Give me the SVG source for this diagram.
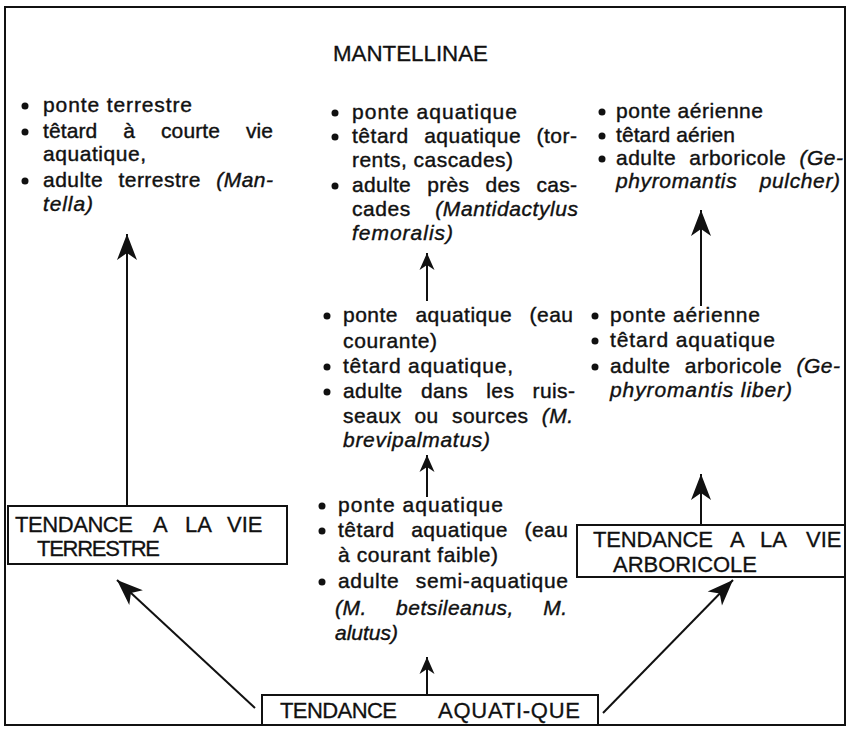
<svg xmlns="http://www.w3.org/2000/svg" width="848" height="735" viewBox="0 0 848 735">
<defs>
<style>
.t{font-family:"Liberation Sans",Arial,sans-serif;font-size:21px;fill:#111;stroke:#111;stroke-width:0.4}
.i{font-style:italic}
.h{font-family:"Liberation Sans",Arial,sans-serif;font-size:22px;fill:#111;stroke:#111;stroke-width:0.3}
.box{fill:#fff;stroke:#111;stroke-width:2}
.ln{stroke:#111;stroke-width:2;fill:none}
.b{fill:#111}
</style>
<marker id="big" viewBox="-27 -12 29 24" refX="0" refY="0" markerWidth="29" markerHeight="24" markerUnits="userSpaceOnUse" orient="auto">
<path d="M0,0 L-26,-10 L-19,0 L-26,10 Z" fill="#111"/>
</marker>
<marker id="small" viewBox="-19 -9 21 18" refX="0" refY="0" markerWidth="21" markerHeight="18" markerUnits="userSpaceOnUse" orient="auto">
<path d="M0,0 L-17,-7.5 L-12,0 L-17,7.5 Z" fill="#111"/>
</marker>
</defs>
<rect x="0" y="0" width="848" height="735" fill="#fff"/>
<rect x="5" y="7" width="840" height="718" fill="none" stroke="#111" stroke-width="2"/>
<text class="h" x="333" y="61" textLength="155" lengthAdjust="spacingAndGlyphs">MANTELLINAE</text>

<g id="connectors">
<line class="ln" x1="127" y1="506" x2="127" y2="234" marker-end="url(#big)"/>
<line class="ln" x1="427" y1="301" x2="427" y2="253" marker-end="url(#small)"/>
<line class="ln" x1="427" y1="497" x2="427" y2="455" marker-end="url(#small)"/>
<line class="ln" x1="427" y1="695" x2="427" y2="657" marker-end="url(#small)"/>
<line class="ln" x1="701" y1="306" x2="701" y2="210" marker-end="url(#big)"/>
<line class="ln" x1="701" y1="525" x2="701" y2="474" marker-end="url(#big)"/>
<line class="ln" x1="255" y1="708" x2="117" y2="580" marker-end="url(#big)"/>
<line class="ln" x1="603" y1="713" x2="733" y2="580" marker-end="url(#big)"/>
</g>

<g id="terrestre-traits">
<circle class="b" cx="25" cy="106" r="3.5"/>
<circle class="b" cx="25" cy="132" r="3.5"/>
<circle class="b" cx="25" cy="181" r="3.5"/>
<text class="t" x="43" y="112" textLength="149" lengthAdjust="spacing">ponte terrestre</text>
<text class="t" x="43" y="138" textLength="230" lengthAdjust="spacing" style="word-spacing:20px">têtard à courte vie</text>
<text class="t" x="43" y="161" textLength="103" lengthAdjust="spacing">aquatique,</text>
<text class="t" x="43" y="187" textLength="230" lengthAdjust="spacing" style="word-spacing:9px">adulte terrestre <tspan class="i">(Man-</tspan></text>
<text class="t i" x="43" y="211" textLength="50" lengthAdjust="spacing">tella)</text>
</g>

<g id="mantidactylus-femoralis">
<circle class="b" cx="335" cy="113" r="3.5"/>
<circle class="b" cx="335" cy="137" r="3.5"/>
<circle class="b" cx="335" cy="186" r="3.5"/>
<text class="t" x="352" y="119" textLength="165" lengthAdjust="spacing">ponte aquatique</text>
<text class="t" x="352" y="143" textLength="225" lengthAdjust="spacing" style="word-spacing:9px">têtard aquatique (tor-</text>
<text class="t" x="352" y="167" textLength="161" lengthAdjust="spacing">rents, cascades)</text>
<text class="t" x="352" y="192" textLength="225" lengthAdjust="spacing" style="word-spacing:10px">adulte près des cas-</text>
<text class="t" x="352" y="216" textLength="226" lengthAdjust="spacing" style="word-spacing:18px">cades <tspan class="i">(Mantidactylus</tspan></text>
<text class="t i" x="352" y="240" textLength="101" lengthAdjust="spacing">femoralis)</text>
</g>

<g id="gephyromantis-pulcher">
<circle class="b" cx="602" cy="112" r="3.5"/>
<circle class="b" cx="602" cy="136" r="3.5"/>
<circle class="b" cx="602" cy="159" r="3.5"/>
<text class="t" x="616" y="118" textLength="147" lengthAdjust="spacing">ponte aérienne</text>
<text class="t" x="616" y="142" textLength="119" lengthAdjust="spacing">têtard aérien</text>
<text class="t" x="616" y="165" textLength="227" lengthAdjust="spacing" style="word-spacing:7px">adulte arboricole <tspan class="i">(Ge-</tspan></text>
<text class="t i" x="616" y="188" textLength="224" lengthAdjust="spacing" style="word-spacing:16px">phyromantis pulcher)</text>
</g>

<g id="m-brevipalmatus">
<circle class="b" cx="327" cy="316" r="3.5"/>
<circle class="b" cx="327" cy="367" r="3.5"/>
<circle class="b" cx="327" cy="392" r="3.5"/>
<text class="t" x="343" y="322" textLength="230" lengthAdjust="spacing" style="word-spacing:11px">ponte aquatique (eau</text>
<text class="t" x="343" y="348" textLength="94" lengthAdjust="spacing">courante)</text>
<text class="t" x="343" y="373" textLength="170" lengthAdjust="spacing">têtard aquatique,</text>
<text class="t" x="343" y="398" textLength="232" lengthAdjust="spacing" style="word-spacing:12px">adulte dans les ruis-</text>
<text class="t" x="343" y="423" textLength="230" lengthAdjust="spacing" style="word-spacing:7px">seaux ou sources <tspan class="i">(M.</tspan></text>
<text class="t i" x="343" y="447" textLength="147" lengthAdjust="spacing">brevipalmatus)</text>
</g>

<g id="gephyromantis-liber">
<circle class="b" cx="595" cy="316" r="3.5"/>
<circle class="b" cx="595" cy="341" r="3.5"/>
<circle class="b" cx="595" cy="367" r="3.5"/>
<text class="t" x="610" y="322" textLength="150" lengthAdjust="spacing">ponte aérienne</text>
<text class="t" x="610" y="347" textLength="165" lengthAdjust="spacing">têtard aquatique</text>
<text class="t" x="610" y="373" textLength="230" lengthAdjust="spacing" style="word-spacing:8px">adulte arboricole <tspan class="i">(Ge-</tspan></text>
<text class="t i" x="610" y="397" textLength="182" lengthAdjust="spacing">phyromantis liber)</text>
</g>

<g id="m-betsileanus-alutus">
<circle class="b" cx="322" cy="506" r="3.5"/>
<circle class="b" cx="322" cy="531" r="3.5"/>
<circle class="b" cx="322" cy="582" r="3.5"/>
<text class="t" x="338" y="512" textLength="165" lengthAdjust="spacing">ponte aquatique</text>
<text class="t" x="338" y="537" textLength="230" lengthAdjust="spacing" style="word-spacing:10px">têtard aquatique (eau</text>
<text class="t" x="338" y="562" textLength="160" lengthAdjust="spacing">à courant faible)</text>
<text class="t" x="338" y="588" textLength="230" lengthAdjust="spacing" style="word-spacing:10px">adulte semi-aquatique</text>
<text class="t i" x="335" y="615" textLength="232" lengthAdjust="spacing" style="word-spacing:23px">(M. betsileanus, M.</text>
<text class="t i" x="335" y="640">alutus)</text>
</g>

<g id="tendance-terrestre">
<rect class="box" x="8" y="506" width="279" height="58"/>
<text class="h" y="532"><tspan x="15" textLength="118" lengthAdjust="spacing">TENDANCE</tspan><tspan x="153">A</tspan><tspan x="185">LA</tspan><tspan x="227">VIE</tspan></text>
<text class="h" x="37" y="556" textLength="123" lengthAdjust="spacing">TERRESTRE</text>
</g>

<g id="tendance-arboricole">
<rect class="box" x="577" y="525" width="268" height="52"/>
<text class="h" y="547"><tspan x="593" textLength="120" lengthAdjust="spacing">TENDANCE</tspan><tspan x="730">A</tspan><tspan x="760">LA</tspan><tspan x="806">VIE</tspan></text>
<text class="h" x="613" y="572" textLength="144" lengthAdjust="spacing">ARBORICOLE</text>
</g>

<g id="tendance-aquatique">
<rect class="box" x="262" y="695" width="336" height="30"/>
<text class="h" y="718"><tspan x="280" textLength="117" lengthAdjust="spacing">TENDANCE</tspan><tspan x="438" textLength="142" lengthAdjust="spacing">AQUATI-QUE</tspan></text>
</g>
</svg>
